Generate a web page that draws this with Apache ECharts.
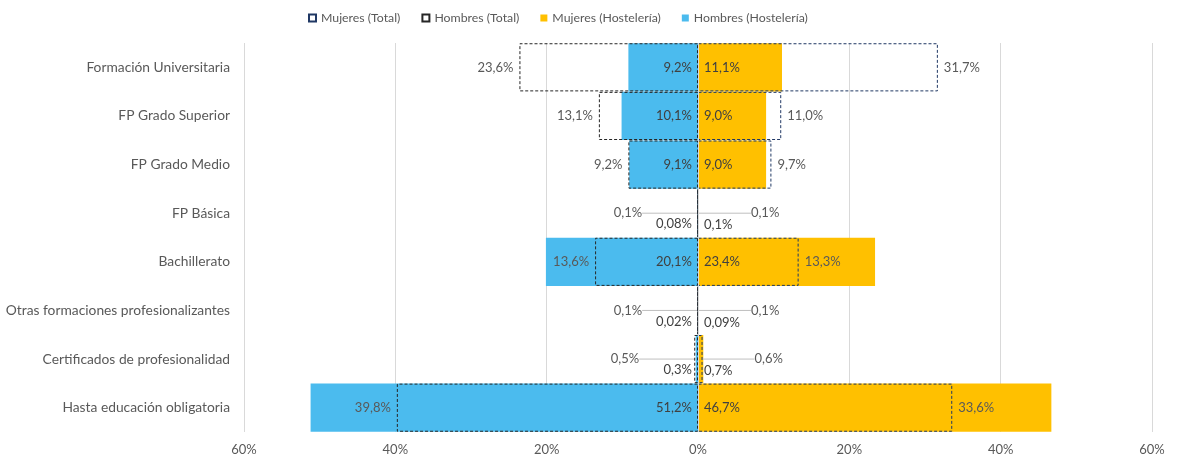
<!DOCTYPE html>
<html>
<head>
<meta charset="utf-8">
<script src="https://cdn.jsdelivr.net/npm/echarts@6/dist/echarts.min.js"></script>
<style>
html,body{margin:0;padding:0;background:#fff;}
#chart{width:1180px;height:465px;}
</style>
</head>
<body>
<div id="chart"></div>
<script>
const categories = ['Formación Universitaria','FP Grado Superior','FP Grado Medio','FP Básica','Bachillerato','Otras formaciones profesionalizantes','Certificados de profesionalidad','Hasta educación obligatoria'];
const hombresTotal = [23.6, 13.1, 9.2, 0.1, 13.6, 0.1, 0.5, 39.8];
const hombresHost  = [9.2, 10.1, 9.1, 0.08, 20.1, 0.02, 0.3, 51.2];
const mujeresHost  = [11.1, 9.0, 9.0, 0.1, 23.4, 0.09, 0.7, 46.7];
const mujeresTotal = [31.7, 11.0, 9.7, 0.1, 13.3, 0.1, 0.6, 33.6];
const xTicks = [-60, -40, -20, 0, 20, 40, 60];

const FONT = 'Lato';
function fmt(v) {
  v = Math.abs(v);
  const one = Math.abs(v * 10 - Math.round(v * 10)) < 1e-9;
  return (one ? v.toFixed(1) : v.toFixed(2)).replace('.', ',') + '%';
}

const chart = echarts.init(document.getElementById('chart'));
const inLabel = (pos) => ({
  show: true, position: pos, distance: 6, color: '#404040', fontSize: 13, fontFamily: FONT,
  formatter: p => fmt(p.value)
});
const outLabel = (pos) => ({
  show: true, position: pos, distance: 6, color: '#595959', fontSize: 13, fontFamily: FONT,
  formatter: p => fmt(p.value)
});
const totalData = (arr, sign) => arr.map(v => ({
  value: sign * v,
  labelLine: { show: v < 1, lineStyle: { color: '#BFBFBF', width: 1 } }
}));

chart.setOption({
  animation: false,
  textStyle: { fontFamily: FONT },
  legend: {
    data: ['Mujeres (Total)', 'Hombres (Total)', 'Mujeres (Hostelería)', 'Hombres (Hostelería)'],
    left: 303, top: 7, icon: 'rect',
    itemWidth: 7, itemHeight: 7, itemGap: 21,
    textStyle: { color: '#595959', fontSize: 12.3, fontFamily: FONT }
  },
  grid: { left: 244, right: 28, top: 43, bottom: 33, containLabel: false },
  xAxis: {
    type: 'value', min: xTicks[0], max: xTicks[xTicks.length - 1], interval: 20,
    axisLine: { show: false }, axisTick: { show: false },
    splitLine: { lineStyle: { color: '#D9D9D9', width: 1 } },
    axisLabel: { color: '#595959', fontSize: 13, fontFamily: FONT, margin: 11,
      formatter: v => Math.abs(v) + '%' }
  },
  yAxis: {
    type: 'category', data: categories, inverse: true,
    axisLine: { show: false, onZero: false }, axisTick: { show: false },
    axisLabel: { color: '#595959', fontSize: 13.8, fontFamily: FONT, margin: 14 }
  },
  series: [
    {
      name: 'Hombres (Hostelería)', type: 'bar', barGap: '-100%', barCategoryGap: '1%',
      data: hombresHost.map(v => -v),
      itemStyle: { color: '#4BBBEE' },
      label: inLabel('insideRight'),
      labelLayout: p => (hombresHost[p.dataIndex] < 1 ? { dy: 11 } : {}),
      z: 2
    },
    {
      name: 'Mujeres (Hostelería)', type: 'bar', barGap: '-100%', barCategoryGap: '1%',
      data: mujeresHost.slice(),
      itemStyle: { color: '#FFC000' },
      label: inLabel('insideLeft'),
      labelLayout: p => (mujeresHost[p.dataIndex] < 1 ? { dy: 12 } : {}),
      markLine: {
        silent: true, symbol: 'none', label: { show: false },
        lineStyle: { color: '#D9D9D9', type: 'solid', width: 1 },
        data: [{ xAxis: 0 }]
      },
      z: 2
    },
    {
      name: 'Hombres (Total)', type: 'bar', barGap: '-100%', barCategoryGap: '1%',
      data: totalData(hombresTotal, -1),
      itemStyle: { color: 'rgba(0,0,0,0)', borderColor: '#262626', borderWidth: 1, borderType: [3, 2] },
      label: outLabel('left'),
      labelLayout: p => (hombresTotal[p.dataIndex] < 1 ? { dx: -49 } : {}),
      z: 3
    },
    {
      name: 'Mujeres (Total)', type: 'bar', barGap: '-100%', barCategoryGap: '1%',
      data: totalData(mujeresTotal, 1),
      itemStyle: { color: 'rgba(0,0,0,0)', borderColor: '#203864', borderWidth: 1, borderType: [3, 2] },
      label: outLabel('right'),
      labelLayout: p => (mujeresTotal[p.dataIndex] < 1 ? { dx: 46 } : {}),
      z: 3
    }
  ]
});
</script>
</body>
</html>
